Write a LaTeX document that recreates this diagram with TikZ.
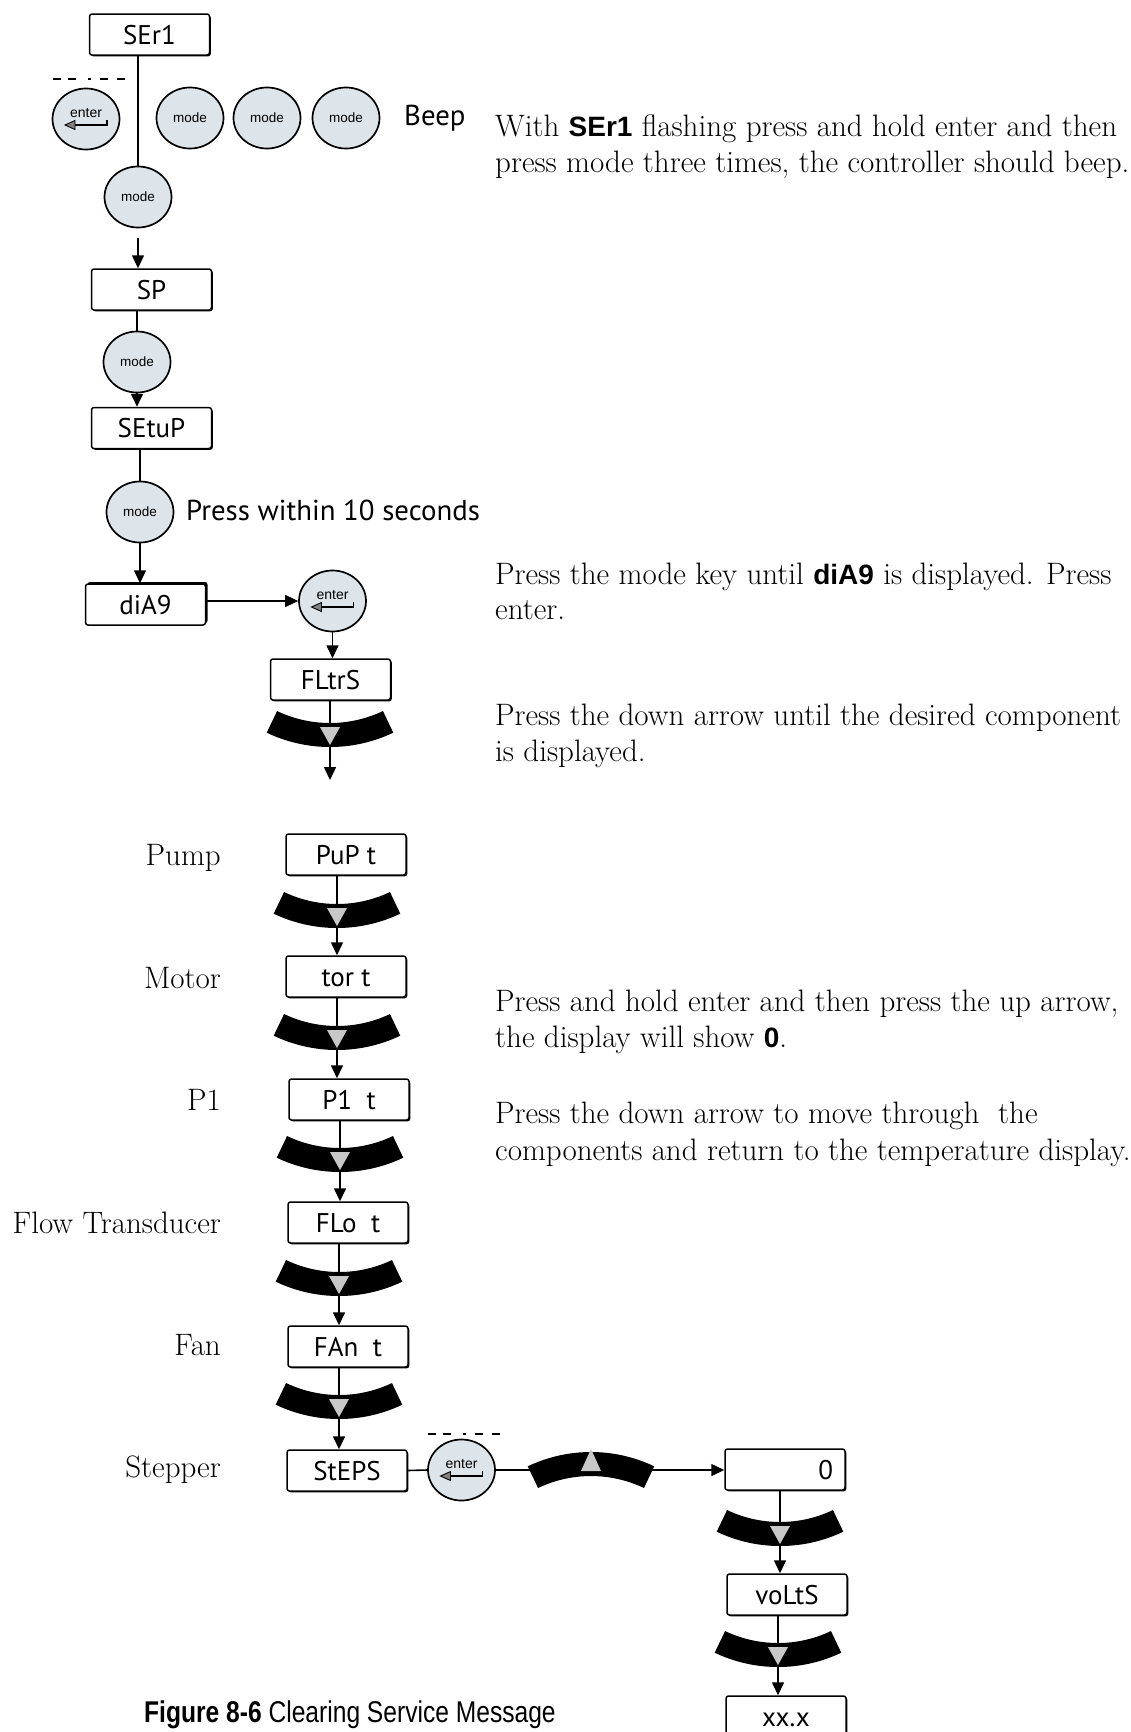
\documentclass[tikz,border=0pt]{standalone}
\usepackage{fontspec}
\usetikzlibrary{arrows.meta,shapes.geometric,shadows}
\newfontfamily\dispfont{PT Sans}
\newfontfamily\helv{Liberation Sans}
\newfontfamily\capfont[FakeStretch=0.82]{Liberation Sans}
\definecolor{btnfill}{HTML}{DDE4EA}
\definecolor{trigray}{HTML}{C8C8C8}
\tikzset{
 dboxbase/.style={draw, line width=1.5pt, rounded corners=2.5pt, fill=white,
   minimum width=120pt, minimum height=41pt, inner sep=0pt, text height=19pt, text depth=0pt,
   font=\dispfont\fontsize{27}{27}\selectfont},
 dbox/.style={dboxbase, drop shadow={shadow xshift=1.3pt, shadow yshift=-1.3pt, fill=black, opacity=1}},
 dboxup/.style={dboxbase, drop shadow={shadow xshift=2pt, shadow yshift=2pt, fill=black, opacity=1}},
 btn/.style={draw, line width=1.7pt, ellipse, fill=btnfill, minimum width=67pt, minimum height=61pt, inner sep=0pt,
   font=\helv\fontsize{13.5}{13.5}\selectfont},
 keytxt/.style={font=\helv\fontsize{14}{14}\selectfont, inner sep=0pt},
 conn/.style={line width=1.6pt},
 arr/.style={line width=1.6pt, -{Triangle[length=13pt,width=12pt]}},
 body/.style={font=\fontsize{31}{36}\selectfont, anchor=base west, inner sep=0pt},
 lab/.style={font=\fontsize{31}{36}\selectfont, anchor=base east, inner sep=0pt},
 hint/.style={font=\dispfont\fontsize{28.8}{28.8}\selectfont, anchor=base west, inner sep=0pt},
 dashrule/.style={line width=1.4pt, dash pattern=on 8pt off 7pt on 8pt off 12pt on 3pt off 9pt on 8pt off 9pt on 8pt},
 downband/.pic={
   \fill[black] (52.96,-11.98) arc[start angle=64.5,end angle=115.5,radius=123] -- (-63.29,9.68)
     arc[start angle=115.5,end angle=64.5,radius=147] -- cycle;
   \fill[trigray] (-10,4) -- (10,4) -- (0,22) -- cycle;
 },
 upband/.pic={
   \fill[black] (-63.29,14.32) arc[start angle=244.5,end angle=295.5,radius=147] -- (52.96,36.0)
     arc[start angle=295.5,end angle=244.5,radius=123] -- cycle;
   \fill[trigray] (0,-3) -- (10,19) -- (-10,19) -- cycle;
 }
}
\newcommand\enterkey[3]{%
 \node[btn] (#1) at (#2,#3) {};
 \node[keytxt] (#1t) at (#2,#3-6) {enter};
 \draw[line width=1.8pt] (#2+21,#3+1) -- (#2+21,#3+6) -- (#2-11,#3+6);
 \filldraw[fill=gray, line width=0.9pt] (#2-21,#3+6) -- (#2-11,#3+1.5) -- (#2-11,#3+10.5) -- cycle;
}
\begin{document}
\begin{tikzpicture}[x=1pt,y=-1pt]
\useasboundingbox (0,0) rectangle (1131,1732);
\clip (0,0) rectangle (1131,1732);
% ---------- top column ----------
\node[dbox] (ser1) at (149.5,34.5) {SEr1};
\draw[dashrule] (53,79) -- (125,79);
\enterkey{e0}{86}{119}
\node[btn] (m1) at (190,118) {mode};
\node[btn] (m2) at (267,118) {mode};
\node[btn] (m3) at (346,118) {mode};
\node[hint] (beep) at (404,125) {Beep};
\node[btn] (mode0) at (138,197) {mode};
\node[dbox] (sp) at (151.5,289.5) {SP};
\node[btn] (mode1) at (137,362) {mode};
\node[dbox] (setup) at (151.5,428) {SEtuP};
\node[btn] (mode2) at (140,512) {mode};
\node[hint] (within) at (186,520) {Press within 10 seconds};
\node[dboxup] (dia) at (145.5,604.5) {diA9};
\enterkey{e1}{332.5}{601}
\node[dbox] (fltrs) at (330.5,679.5) {FLtrS};
\coordinate (end1) at (330,780);

\draw[conn] (ser1.south -| mode0.north) -- (mode0.north);
\draw[arr] ([yshift=-10pt]mode0.south) -- (mode0.south |- sp.north);
\draw[conn] (sp.south -| mode1.north) -- (mode1.north);
\draw[arr] (mode1.south) -- (mode1.south |- setup.north);
\draw[conn] (setup.south -| mode2.north) -- (mode2.north);
\draw[arr] (mode2.south) -- (mode2.south |- dia.north);
\draw[arr] (dia.east |- e1.west) -- (e1.west);
\draw[arr] (e1.south) -- (e1.south |- fltrs.north);
\draw[arr] (fltrs.south -| end1) -- (end1);
\pic at (330,723) {downband};

% ---------- component list ----------
\node[dbox] (pup) at (346,854.5) {PuP t};
\node[dbox] (tor) at (346,976.5) {tor t};
\node[dbox] (p1) at (349,1099.5) {P1\ \ t};
\node[dbox] (flo) at (348,1222.5) {FLo\ \ t};
\node[dbox] (fan) at (348,1346.5) {FAn\ \ t};
\node[dbox] (steps) at (347,1470.5) {StEPS};

\node[lab] (lpump) at (221,865) {Pump};
\node[lab] (lmotor) at (221,988) {Motor};
\node[lab] (lp1) at (221,1110) {P1};
\node[lab] (lflow) at (221,1233) {Flow Transducer};
\node[lab] (lfan) at (221,1355) {Fan};
\node[lab] (lstep) at (221,1477) {Stepper};

\draw[arr] ([xshift=-9pt]pup.south) -- ([xshift=-9pt]pup.south |- tor.north);
\pic at (337,904) {downband};
\draw[arr] ([xshift=-9pt]tor.south) -- ([xshift=-9pt]tor.south |- p1.north);
\pic at (337,1026) {downband};
\draw[arr] ([xshift=-9pt]p1.south) -- ([xshift=-9pt]p1.south |- flo.north);
\pic at (340,1148) {downband};
\draw[arr] ([xshift=-9pt]flo.south) -- ([xshift=-9pt]flo.south |- fan.north);
\pic at (339,1272) {downband};
\draw[arr] ([xshift=-9pt]fan.south) -- ([xshift=-9pt]fan.south |- steps.north);
\pic at (339,1395) {downband};

% ---------- stepper branch ----------
\draw[dashrule] (428,1434) -- (500,1434);
\enterkey{e2}{461.5}{1470}
\node[dbox, text width=96pt, align=right] (zero) at (785,1469.5) {0};
\node[dbox] (volts) at (787,1594.5) {voLtS};
\node[dbox] (xx) at (786,1716.5) {xx.x};

\draw[conn] (steps.east) -- (e2.west);
\draw[arr] (e2.east) -- (e2.east -| zero.west);
\pic at (591,1452) {upband};
\draw[arr] ([xshift=-5pt]zero.south) -- ([xshift=-5pt]zero.south |- volts.north);
\pic at (780,1522) {downband};
\draw[arr] ([xshift=-9pt]volts.south) -- ([xshift=-9pt]volts.south |- xx.north);
\pic at (778,1643) {downband};

% ---------- explanatory text ----------
\node[body] (t1a) at (495,136) {With {\helv\bfseries\fontsize{28}{28}\selectfont SEr1} flashing press and hold enter and then};
\node[body] (t1b) at (495,172) {press mode three times, the controller should beep.};
\node[body] (t2a) at (495,584) {Press the mode key until {\helv\bfseries\fontsize{28}{28}\selectfont diA9} is displayed. Press};
\node[body] (t2b) at (495,619) {enter.};
\node[body] (t3a) at (495,725) {Press the down arrow until the desired component};
\node[body] (t3b) at (495,761) {is displayed.};
\node[body] (t4a) at (495,1011) {Press and hold enter and then press the up arrow,};
\node[body] (t4b) at (495,1047) {the display will show {\helv\bfseries\fontsize{28}{28}\selectfont 0}.};
\node[body] (t5a) at (495,1123) {Press the down arrow to move through\ \ the};
\node[body] (t5b) at (495,1160) {components and return to the temperature display.};

% ---------- caption ----------
\node[anchor=base west, inner sep=0pt] (cap) at (144,1722)
  {\capfont\fontsize{30}{30}\selectfont\bfseries Figure 8-6 \mdseries Clearing Service Message};
\end{tikzpicture}
\end{document}
